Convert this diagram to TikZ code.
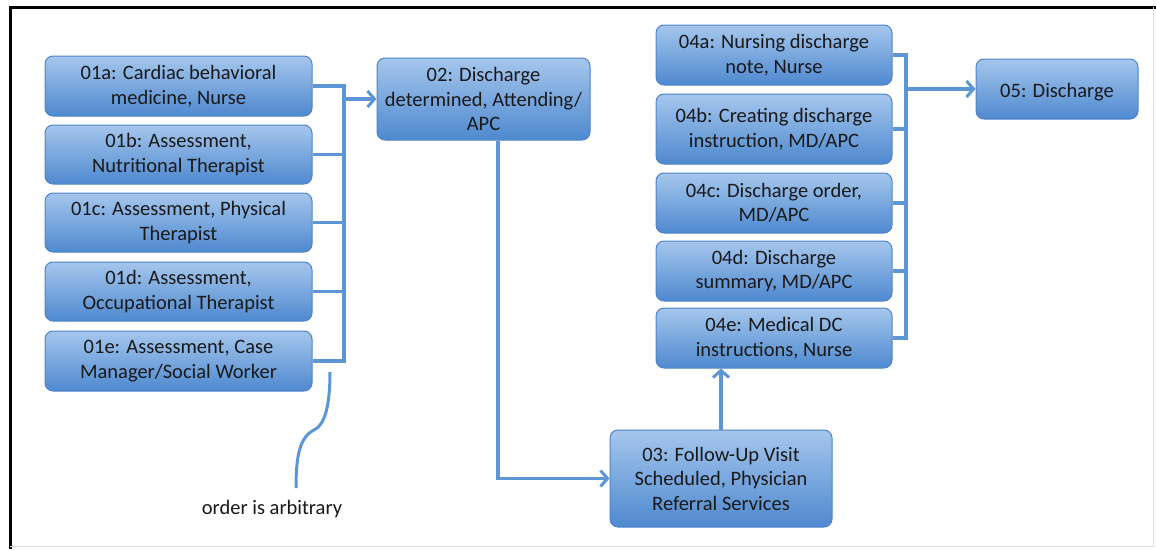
\documentclass[tikz,border=0pt]{standalone}
\usepackage{fontspec}
\setmainfont{Carlito}
\usetikzlibrary{arrows.meta,calc}
\definecolor{boxtop}{RGB}{165,198,237}
\definecolor{boxbot}{RGB}{78,137,207}
\definecolor{boxedge}{RGB}{78,132,198}
\definecolor{conn}{RGB}{92,150,212}
\definecolor{txt}{RGB}{25,25,25}
\tikzset{
  box/.style={draw=boxedge, line width=1pt, rounded corners=8pt, top color=boxtop, bottom color=boxbot,
    align=center, text=txt, font=\fontsize{20.5}{24.5}\selectfont, inner sep=0pt,
    execute at begin node={\rule{0pt}{21pt}}},
  conline/.style={draw=conn, line width=3.5pt},
  arr/.style={conline, -{Straight Barb[length=7pt,width=16pt,line width=3pt]}},
}
\begin{document}
\begin{tikzpicture}[x=1pt,y=-1pt]
\useasboundingbox (0,0) rectangle (1156,549);
\fill[white] (0,0) rectangle (1156,549);
% frame
\draw[black, line width=3pt] (10,549) -- (10,7) -- (1156,7);
\draw[black!12, line width=1pt] (10,546) -- (1153,546) -- (1153,7);
% left column
\node[box, minimum width=267pt, minimum height=60pt] (a1) at (178.5,86) {01a: Cardiac behavioral\\medicine, Nurse};
\node[box, minimum width=267pt, minimum height=59pt] (a2) at (178.5,154.5) {01b: Assessment,\\Nutritional Therapist};
\node[box, minimum width=267pt, minimum height=59pt] (a3) at (178.5,222.5) {01c: Assessment, Physical\\Therapist};
\node[box, minimum width=267pt, minimum height=59pt] (a4) at (178.5,291.5) {01d: Assessment,\\Occupational Therapist};
\node[box, minimum width=267pt, minimum height=60pt] (a5) at (178.5,361) {01e: Assessment, Case\\Manager/Social Worker};
% 02
\node[box, minimum width=213pt, minimum height=82pt] (d2) at (483.5,99) {02: Discharge\\determined, Attending/\\APC};
% 03
\node[box, minimum width=222pt, minimum height=97pt] (d3) at (721,478.5) {03: Follow-Up Visit\\Scheduled, Physician\\Referral Services};
% 04
\node[box, minimum width=236pt, minimum height=60pt] (b1) at (774,55) {04a: Nursing discharge\\note, Nurse};
\node[box, minimum width=236pt, minimum height=70pt] (b2) at (774,129) {04b: Creating discharge\\instruction, MD/APC};
\node[box, minimum width=236pt, minimum height=60pt] (b3) at (774,203) {04c: Discharge order,\\MD/APC};
\node[box, minimum width=236pt, minimum height=60pt] (b4) at (774,271) {04d: Discharge\\summary, MD/APC};
\node[box, minimum width=236pt, minimum height=60pt] (b5) at (774,338) {04e: Medical DC\\instructions, Nurse};
% 05
\node[box, minimum width=162pt, minimum height=60pt] (d5) at (1057,89) {05: Discharge};
% trunks
\coordinate (t1) at (344,0);
\coordinate (t4) at (906,0);
\foreach \n in {a1,a2,a3,a4,a5}{\draw[conline] (\n.east) -- (\n.east -| t1);}
\draw[conline, line cap=rect] (a1.east -| t1) -- (a5.east -| t1);
\draw[arr] (d2.west -| t1) -- (d2.west);
\draw[arr] ([xshift=14.5pt]d2.south) |- (d3.west);
\draw[arr] (d3.north) -- (d3.north |- b5.south);
\foreach \n in {b1,b2,b3,b4,b5}{\draw[conline] (\n.east) -- (\n.east -| t4);}
\draw[conline, line cap=rect] (b1.east -| t4) -- (b5.east -| t4);
\draw[arr] (d5.west -| t4) -- (d5.west);
% brace note
\node[text=txt, font=\fontsize{20.5}{24.5}\selectfont] (note) at (272,509) {order is arbitrary};
\coordinate (bt) at (330,372);
\draw[conline, line width=3pt] (bt) .. controls (330,405) and (325,425) .. (314,430)
  .. controls (300,437) and (296,455) .. (296,488);
\end{tikzpicture}
\end{document}
